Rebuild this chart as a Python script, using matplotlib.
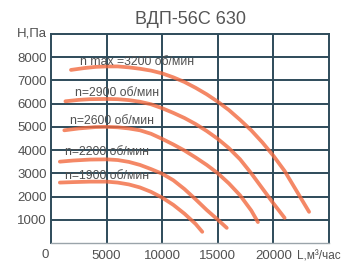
#plot.py
#Fan pressure curves for VDP-56S 630

import matplotlib.pyplot as plt

plt.rcParams['font.family'] = ['Liberation Sans', 'DejaVu Sans']

#curve data (L, m3/h  /  H, Pa)
L3200 = [1800, 3000, 4000, 5000, 6000, 7000, 8000, 9000, 10000, 11000, 12000,
         13000, 14000, 15000, 16000, 17000, 18000, 19000, 20000, 21000, 22000, 23200]
H3200 = [7450, 7530, 7580, 7600, 7600, 7560, 7500, 7420, 7300, 7130, 6930,
         6680, 6400, 6080, 5720, 5300, 4850, 4330, 3750, 3100, 2300, 1340]

L2900 = [1300, 2500, 3500, 5000, 6000, 7000, 8000, 9000, 10000, 11000, 12000,
         13000, 14000, 15000, 16000, 17000, 18000, 19000, 20000, 21000]
H2900 = [6100, 6160, 6190, 6200, 6190, 6150, 6080, 5970, 5800, 5600, 5380,
         5120, 4820, 4480, 4080, 3600, 3000, 2350, 1700, 1080]

L2600 = [1200, 2500, 4000, 5000, 6000, 7000, 8000, 9000, 10000, 11000, 12000,
         13000, 14000, 15000, 16000, 17000, 18000, 18600]
H2600 = [4850, 4930, 4990, 5000, 4980, 4930, 4850, 4700, 4480, 4240, 3980,
         3680, 3360, 3000, 2560, 2050, 1400, 900]

L2200 = [800, 2000, 3500, 5000, 6000, 7000, 8000, 9000, 10000, 11000, 12000,
         13000, 14000, 15000, 15800]
H2200 = [3500, 3550, 3590, 3600, 3570, 3490, 3360, 3180, 2980, 2700, 2320,
         1880, 1420, 1000, 650]

L1900 = [800, 2000, 3500, 5000, 6000, 7000, 8000, 9000, 10000, 11000, 12000,
         13000, 13600]
H1900 = [2600, 2620, 2640, 2640, 2600, 2520, 2390, 2200, 1950, 1640, 1260,
         820, 480]

curves = [(L3200, H3200), (L2900, H2900), (L2600, H2600), (L2200, H2200), (L1900, H1900)]

labels = ["n max =3200 об/мин", "n=2900 об/мин", "n=2600 об/мин", "n=2200 об/мин", "n=1900 об/мин"]
label_x = [2600, 2150, 1700, 1250, 1250]
label_y = [7800, 6450, 5240, 3900, 2900]

xticks = [5000, 10000, 15000, 20000]
yticks = [1000, 2000, 3000, 4000, 5000, 6000, 7000, 8000]

fig = plt.figure(figsize=(3.49, 2.67), dpi=100)
ax = fig.add_axes([0.146, 0.09, 0.797, 0.783])
ax.set_xlim(0, 25000)
ax.set_ylim(0, 9000)

gridcol = "#2e4b5a"
textcol = "#505050"

#grid
for x in xticks:
    ax.axvline(x, color=gridcol, linewidth=1.4, zorder=1)
for y in yticks:
    ax.axhline(y, color=gridcol, linewidth=1.4, zorder=1)

#curves
for L, H in curves:
    ax.plot(L, H, color="#f26a40", linewidth=2.7, alpha=0.8,
            solid_capstyle="round", solid_joinstyle="round", zorder=3)

#curve labels
for t, x, y in zip(labels, label_x, label_y):
    ax.text(x, y, t, fontsize=8.8, color=textcol, va="center", ha="left", zorder=4)

#axes style
for s in ["top", "right", "left"]:
    ax.spines[s].set_color(gridcol)
    ax.spines[s].set_linewidth(1.4)
ax.spines["bottom"].set_color("#9aa4aa")
ax.spines["bottom"].set_linewidth(1.0)

ax.set_xticks(xticks)
ax.set_yticks(yticks)
ax.tick_params(length=0, labelsize=9.5, labelcolor=textcol, pad=3)
ax.tick_params(axis="x", pad=5)

ax.text(-400, 9000, "Н,Па", fontsize=9.5, color=textcol, ha="right", va="center")
ax.text(-150, -250, "0", fontsize=9.5, color=textcol, ha="right", va="top")
ax.text(22100, -330, "L,м³/час", fontsize=8.5, color=textcol, ha="left", va="top")

fig.suptitle("ВДП-56С 630", fontsize=13, color="#555555", x=0.545, y=0.96)

plt.savefig("out.png", dpi=100)
